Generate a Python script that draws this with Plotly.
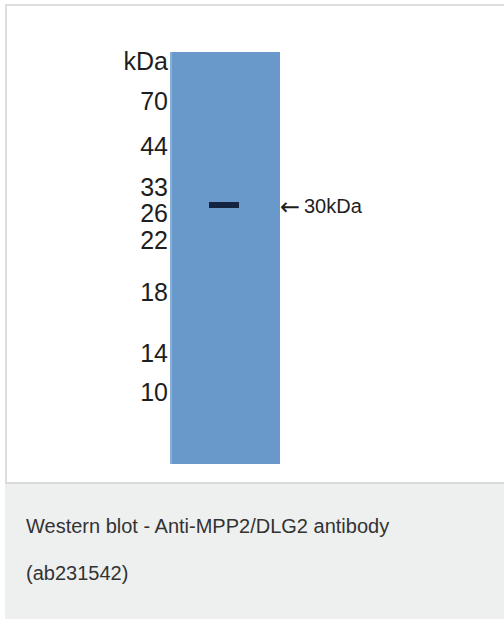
import plotly.graph_objects as go

# ---- data ----
marker_labels = ["kDa", "70", "44", "33", "26", "22", "18", "14", "10"]
marker_y = [62, 102, 147, 188, 214, 241, 293, 354, 393]   # migration position (px from top)
band_arrow = "←"
band_label = "30kDa"
band_y = 205
band_x = [209, 239]
lane_x = [170, 280]
lane_y = [52, 464]
caption_lines = ["Western blot - Anti-MPP2/DLG2 antibody", "(ab231542)"]
caption_y = [526, 573]

W, H = 504, 619
FONT = "Liberation Sans, Arial, sans-serif"
TEXT_DY = 2  # text baseline correction

fig = go.Figure()

shapes = []
# image frame border (top and left)
shapes.append(dict(type="rect", xref="x", yref="y", x0=5, x1=W, y0=4, y1=6,
                   fillcolor="#dedede", line_width=0, layer="below"))
shapes.append(dict(type="rect", xref="x", yref="y", x0=5, x1=7, y0=4, y1=484,
                   fillcolor="#dedede", line_width=0, layer="below"))
# caption area
shapes.append(dict(type="rect", xref="x", yref="y", x0=5, x1=W, y0=482, y1=H,
                   fillcolor="#eef0ef", line_width=0, layer="below"))
shapes.append(dict(type="rect", xref="x", yref="y", x0=5, x1=W, y0=482, y1=484,
                   fillcolor="#d8dbda", line_width=0, layer="below"))
# lane
shapes.append(dict(type="rect", xref="x", yref="y", x0=lane_x[0], x1=lane_x[1],
                   y0=lane_y[0], y1=lane_y[1], fillcolor="#6899ca", line_width=0,
                   layer="below"))
shapes.append(dict(type="rect", xref="x", yref="y", x0=lane_x[0], x1=lane_x[0] + 2,
                   y0=lane_y[0], y1=lane_y[1], fillcolor="#86b0d8", line_width=0,
                   layer="below"))
fig.update_layout(shapes=shapes)

# band
fig.add_trace(go.Scatter(x=band_x, y=[band_y, band_y], mode="lines",
                         line=dict(color="#14233f", width=6), hoverinfo="skip"))

# marker labels
fig.add_trace(go.Scatter(x=[168] * len(marker_labels),
                         y=[v + TEXT_DY for v in marker_y], mode="text",
                         text=marker_labels, textposition="middle left",
                         textfont=dict(family=FONT, size=25, color="#1e1e1e"),
                         hoverinfo="skip"))
# band label
fig.add_trace(go.Scatter(x=[280], y=[band_y + 4], mode="text", text=[band_arrow],
                         textposition="middle right",
                         textfont=dict(family="DejaVu Sans", size=24, color="#1e1e1e"),
                         hoverinfo="skip"))
fig.add_trace(go.Scatter(x=[304], y=[band_y + TEXT_DY + 1], mode="text", text=[band_label],
                         textposition="middle right",
                         textfont=dict(family=FONT, size=20, color="#1e1e1e"),
                         hoverinfo="skip"))
# caption
fig.add_trace(go.Scatter(x=[26] * len(caption_lines),
                         y=[v + TEXT_DY for v in caption_y], mode="text",
                         text=caption_lines, textposition="middle right",
                         textfont=dict(family=FONT, size=20, color="#333333"),
                         hoverinfo="skip"))

fig.update_layout(
    width=W, height=H, margin=dict(l=0, r=0, t=0, b=0),
    paper_bgcolor="white", plot_bgcolor="white", showlegend=False,
    xaxis=dict(range=[0, W], visible=False, fixedrange=True),
    yaxis=dict(range=[H, 0], visible=False, fixedrange=True),
)
fig.write_html("out.html", config={"displayModeBar": False},
               post_script="document.body.style.margin='0';document.body.style.overflow='hidden';")
